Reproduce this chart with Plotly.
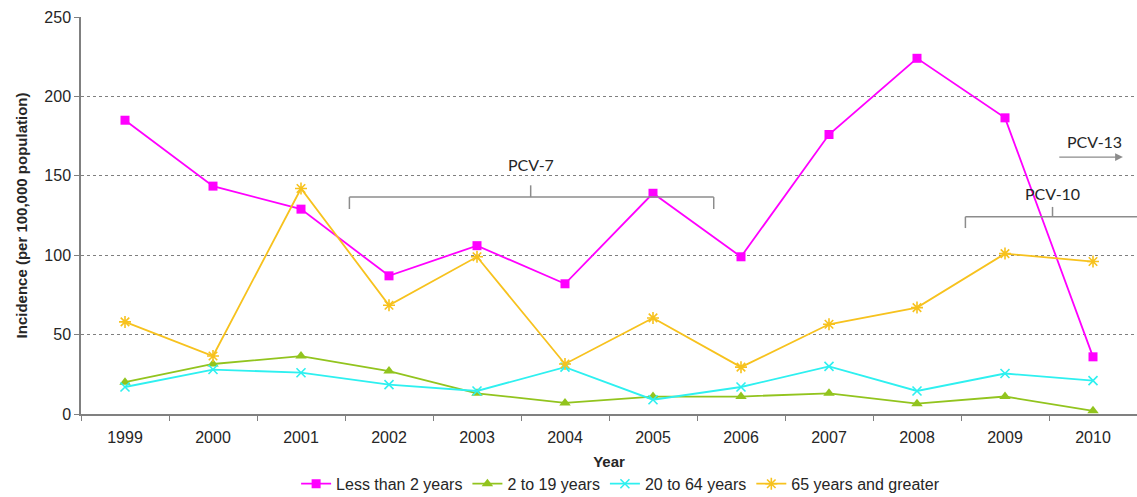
import plotly.graph_objects as go

years = ["1999", "2000", "2001", "2002", "2003", "2004", "2005", "2006", "2007", "2008", "2009", "2010"]
less_than_2 = [185, 143.5, 129, 87, 106, 82, 139, 99, 176, 224, 186.5, 36]
age_2_19 = [20, 31.5, 36.5, 27, 13, 7, 11, 11, 13, 6.5, 11, 2]
age_20_64 = [17, 28, 26, 18.5, 14.5, 29.5, 9, 17, 30, 14.5, 25.5, 21]
age_65_plus = [58, 36.5, 142, 68.5, 99, 31.5, 60.5, 29.5, 56.5, 67, 101, 96]

series = [
    ("Less than 2 years", less_than_2, "#FF00FF", dict(symbol="square", size=9)),
    ("2 to 19 years", age_2_19, "#92C41E", dict(symbol="triangle-up", size=10)),
    ("20 to 64 years", age_20_64, "#2EF0F0", dict(symbol="x-thin-open", size=9, line=dict(width=1.6, color="#2EF0F0"))),
    ("65 years and greater", age_65_plus, "#F7C21E", dict(symbol="asterisk-open", size=10, line=dict(width=1.6, color="#F7C21E"))),
]

fig = go.Figure()
for name, vals, color, mk in series:
    m = dict(color=color, **mk)
    fig.add_trace(go.Scatter(x=years, y=vals, name=name, mode="lines+markers",
                             line=dict(color=color, width=1.8), marker=m))

gray = "#8C8C8C"
shapes = []
def seg(x0, y0, x1, y1):
    shapes.append(dict(type="line", xref="x", yref="y", x0=x0, y0=y0, x1=x1, y1=y1,
                       line=dict(color=gray, width=1.5)))

# PCV-7 bracket
seg(2.55, 136.6, 6.69, 136.6)
seg(2.55, 136.6, 2.55, 129.1)
seg(6.69, 136.6, 6.69, 129.1)
seg(4.61, 136.6, 4.61, 144.0)
# PCV-10 bracket
seg(9.55, 124.2, 11.6, 124.2)
seg(9.55, 124.2, 9.55, 117.1)
seg(10.54, 124.2, 10.54, 130.4)

afont = dict(family="Lato, Open Sans, sans-serif", size=16, color="#262626")
annotations = [
    dict(x=4.61, y=157, xref="x", yref="y", text="PCV-7", showarrow=False, font=afont),
    dict(x=10.54, y=139, xref="x", yref="y", text="PCV-10", showarrow=False, font=afont),
    dict(x=11.02, y=171.5, xref="x", yref="y", text="PCV-13", showarrow=False, font=afont),
    dict(x=11.34, y=161.8, ax=10.6, ay=161.8, xref="x", yref="y", axref="x", ayref="y",
         text="", showarrow=True, arrowhead=2, arrowsize=1.2, arrowwidth=1.3, arrowcolor=gray),
]

fig.update_layout(
    width=1137, height=497,
    margin=dict(l=81, r=0, t=17, b=83, autoexpand=False),
    paper_bgcolor="white", plot_bgcolor="white",
    font=dict(family="Liberation Sans, Arial, sans-serif", size=16, color="#262626"),
    shapes=shapes, annotations=annotations,
    showlegend=True,
    legend=dict(orientation="h", x=0.511, xanchor="center", y=-0.133, yanchor="top",
                font=dict(size=16), itemwidth=30, tracegroupgap=0),
    xaxis=dict(type="category", range=[-0.5, 11.5], showgrid=False,
               ticks="outside", tickson="boundaries", ticklen=5, tickcolor="#808080",
               showline=True, linecolor="#808080", linewidth=1.5,
               ticklabelstandoff=8,
               title=dict(text="<b>Year</b>", standoff=12, font=dict(size=15)),
               tickfont=dict(size=16)),
    yaxis=dict(range=[0, 250], dtick=50, showgrid=True, gridcolor="#7F7F7F", griddash="dot",
               gridwidth=1, ticks="outside", ticklen=5, tickcolor="#808080",
               showline=True, linecolor="#808080", linewidth=1.5, zeroline=False,
               title=dict(text="<b>Incidence (per 100,000 population)</b>", standoff=13, font=dict(size=15)),
               tickfont=dict(size=16)),
)

fig.write_html("out.html", config={"displayModeBar": False},
               post_script="document.body.style.margin='0';document.body.style.overflow='hidden';")
